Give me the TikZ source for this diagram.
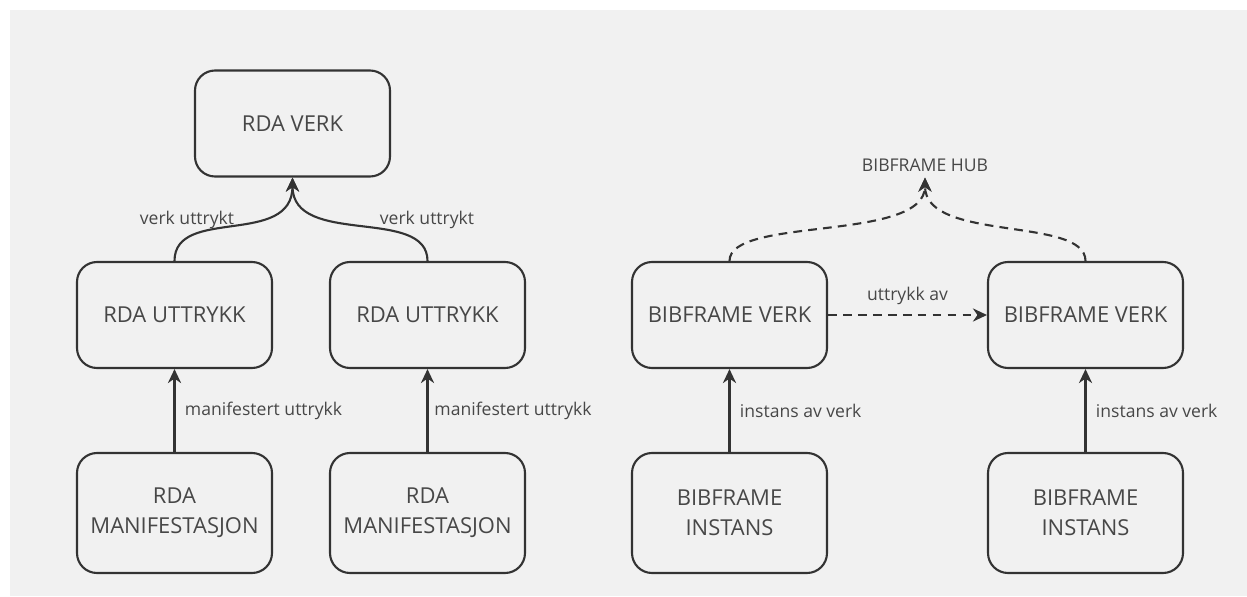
\documentclass[tikz,border=0pt]{standalone}
\usepackage{fontspec}
\setmainfont{Open Sans}
\usetikzlibrary{arrows.meta}
\definecolor{linegray}{HTML}{333333}
\definecolor{textgray}{HTML}{474747}
\definecolor{panelgray}{HTML}{F1F1F1}

\begin{document}
\begin{tikzpicture}[
    block/.style={rectangle, draw=linegray, line width=1.2pt, rounded corners=0.4cm, minimum width=3.9cm, minimum height=2.12cm, align=center, text=textgray, font=\fontsize{12.5}{17}\selectfont},
    lowblock/.style={block, minimum height=2.4cm},
    lbl/.style={text=textgray, font=\fontsize{10}{12}\selectfont},
    arrow/.style={-{Stealth[length=8pt, width=7.5pt]}, draw=linegray, line width=1.2pt},
    dasharrow/.style={arrow, dash pattern=on 5pt off 3.5pt}
]
    % Background panel
    \useasboundingbox (0,0) rectangle (24.94,-11.92);
    \fill[panelgray] (0.2,-0.2) rectangle (24.94,-11.92);

    % RDA side
    \node[block] (verk) at (5.85,-2.47) {RDA VERK};
    \node[block] (uttL) at (3.49,-6.30) {RDA UTTRYKK};
    \node[block] (uttR) at (8.55,-6.30) {RDA UTTRYKK};
    \node[lowblock] (manL) at (3.49,-10.26) {RDA\\MANIFESTASJON};
    \node[lowblock] (manR) at (8.55,-10.26) {RDA\\MANIFESTASJON};

    % BIBFRAME side
    \node[lbl] (hub) at (18.5,-3.3) {BIBFRAME HUB};
    \node[block] (bfL) at (14.59,-6.30) {BIBFRAME VERK};
    \node[block] (bfR) at (21.71,-6.30) {BIBFRAME VERK};
    \node[lowblock] (instL) at (14.59,-10.26) {BIBFRAME\\INSTANS};
    \node[lowblock] (instR) at (21.71,-10.26) {BIBFRAME\\INSTANS};

    % Expressions to work
    \draw[arrow] (uttL.north) .. controls +(0,1.1) and +(0,-1.4) .. (verk.south);
    \draw[arrow] (uttR.north) .. controls +(0,1.1) and +(0,-1.4) .. (verk.south);
    \node[lbl] (vuL) at (3.74,-4.40) {verk uttrykt};
    \node[lbl] (vuR) at (8.54,-4.40) {verk uttrykt};

    % Manifestations to expressions
    \draw[arrow] (manL.north) -- (uttL.south) node[lbl, midway, right, xshift=2pt] (muL) {manifestert uttrykk};
    \draw[arrow] (manR.north) -- (uttR.south) node[lbl, midway, right] (muR) {manifestert uttrykk};

    % Instances to works
    \draw[arrow] (instL.north) -- (bfL.south) node[lbl, midway, right, xshift=2pt] (ivL) {instans av verk};
    \draw[arrow] (instR.north) -- (bfR.south) node[lbl, midway, right, xshift=2pt] (ivR) {instans av verk};

    % Works to hub
    \draw[dasharrow] (bfL.east) -- (bfR.west) node[lbl, midway, above, yshift=2pt] (ua) {uttrykk av};
    \draw[dasharrow] (bfL.north) .. controls +(0,0.9) and +(0,-1.3) .. (hub.south);
    \draw[dasharrow] (bfR.north) .. controls +(0,0.9) and +(0,-1.3) .. (hub.south);
\end{tikzpicture}
\end{document}
